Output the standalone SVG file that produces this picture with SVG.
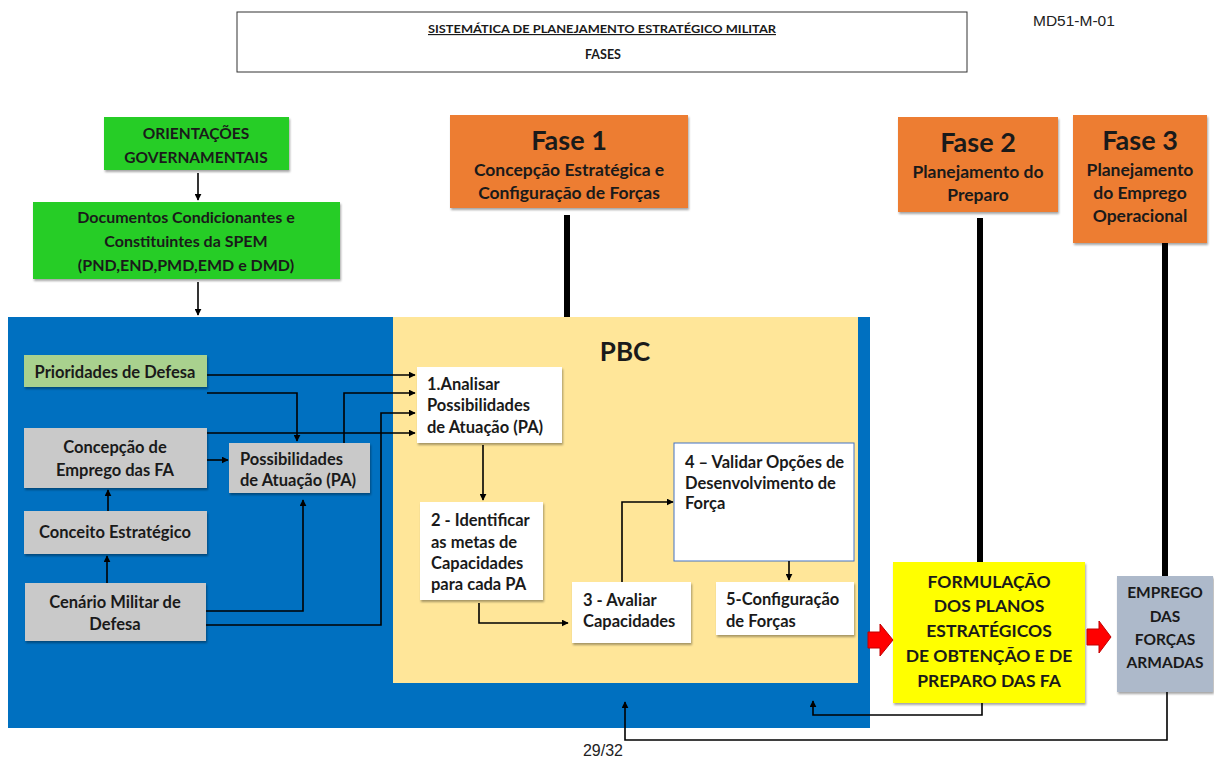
<svg xmlns="http://www.w3.org/2000/svg" width="1214" height="758" viewBox="0 0 1214 758">
<style>
.t{font-family:Lato,"Open Sans","Liberation Sans",sans-serif;font-weight:bold;fill:#1a1a1a}
.c{text-anchor:middle}
.b{font-size:16.5px}
.ln{fill:none;stroke:#000;stroke-width:1.6}
.thick{stroke:#000;stroke-width:6}
.white{fill:#fff}
.gray{fill:#c9c9c9}
.orange{fill:#ED7D31}
</style>
<defs>
<marker id="ah" viewBox="0 0 10 10" refX="9" refY="5" markerWidth="7" markerHeight="7" orient="auto" markerUnits="userSpaceOnUse">
<path d="M0,0 L10,5 L0,10 z" fill="#000"/>
</marker>
<filter id="sh" x="-5%" y="-5%" width="115%" height="125%">
<feDropShadow dx="1" dy="2" stdDeviation="1" flood-color="#000" flood-opacity="0.35"/>
</filter>
</defs>
<rect width="1214" height="758" fill="#fff"/>

<g id="title">
<rect x="237" y="12" width="730" height="60" fill="#fff" stroke="#333" stroke-width="1"/>
<text class="t c" x="602" y="33" font-size="11.5" textLength="348" lengthAdjust="spacingAndGlyphs" text-decoration="underline">SISTEMÁTICA DE PLANEJAMENTO ESTRATÉGICO MILITAR</text>
<text class="t c" x="603" y="59" font-size="12.5">FASES</text>
</g>
<text x="1033" y="26" font-family="Liberation Sans,Arial,sans-serif" font-size="15.5" fill="#222">MD51-M-01</text>

<g id="orientacoes">
<rect x="104" y="117" width="185" height="53" fill="#27CD27" filter="url(#sh)"/>
<text class="t c" x="196" y="139" font-size="15.5">ORIENTAÇÕES</text>
<text class="t c" x="196" y="163" font-size="15.5">GOVERNAMENTAIS</text>
</g>
<g id="documentos">
<rect x="33" y="202" width="307" height="77" fill="#27CD27" filter="url(#sh)"/>
<text class="t c" x="186" y="223" font-size="16">Documentos Condicionantes e</text>
<text class="t c" x="186" y="247" font-size="16">Constituintes da SPEM</text>
<text class="t c" x="186" y="271" font-size="16">(PND,END,PMD,EMD e DMD)</text>
</g>

<g id="blue-area">
<rect x="8" y="317" width="862" height="411" fill="#0070C0"/>
</g>
<g id="pbc">
<rect x="393" y="317" width="465" height="366" fill="#FFE699"/>
<text class="t c" x="625" y="361" font-size="26">PBC</text>
</g>

<g id="fase1">
<rect x="450" y="115" width="238" height="93" class="orange" filter="url(#sh)"/>
<text class="t c" x="569" y="150" font-size="27">Fase 1</text>
<text class="t c" x="569" y="176" font-size="17.5">Concepção Estratégica e</text>
<text class="t c" x="569" y="199" font-size="17.5">Configuração de Forças</text>
</g>
<g id="fase2">
<rect x="898" y="117" width="160" height="95" class="orange" filter="url(#sh)"/>
<text class="t c" x="978" y="152" font-size="27">Fase 2</text>
<text class="t c" x="978" y="178" font-size="17.5">Planejamento do</text>
<text class="t c" x="978" y="201" font-size="17.5">Preparo</text>
</g>
<g id="fase3">
<rect x="1073" y="115" width="134" height="128" class="orange" filter="url(#sh)"/>
<text class="t c" x="1140" y="150" font-size="27">Fase 3</text>
<text class="t c" x="1140" y="176" font-size="17.5">Planejamento</text>
<text class="t c" x="1140" y="199" font-size="17.5">do Emprego</text>
<text class="t c" x="1140" y="222" font-size="17.5">Operacional</text>
</g>

<g id="prioridades">
<rect x="24" y="355" width="183" height="32" fill="#A9D18E" filter="url(#sh)"/>
<text class="t c b" x="115" y="378">Prioridades de Defesa</text>
</g>
<g id="concepcao">
<rect x="24" y="428" width="183" height="60" class="gray" filter="url(#sh)"/>
<text class="t c b" x="115" y="453">Concepção de</text>
<text class="t c b" x="115" y="476">Emprego das FA</text>
</g>
<g id="possibilidades">
<rect x="229" y="443" width="141" height="50" class="gray" filter="url(#sh)"/>
<text class="t b" x="240" y="465">Possibilidades</text>
<text class="t b" x="240" y="486">de Atuação (PA)</text>
</g>
<g id="conceito">
<rect x="24" y="511" width="183" height="43" class="gray" filter="url(#sh)"/>
<text class="t c b" x="115" y="538">Conceito Estratégico</text>
</g>
<g id="cenario">
<rect x="25" y="583" width="181" height="58" class="gray" filter="url(#sh)"/>
<text class="t c b" x="115" y="608">Cenário Militar de</text>
<text class="t c b" x="115" y="630">Defesa</text>
</g>

<g id="analisar">
<rect x="417" y="367" width="145" height="76" class="white" filter="url(#sh)"/>
<text class="t b" x="427" y="390">1.Analisar</text>
<text class="t b" x="427" y="411">Possibilidades</text>
<text class="t b" x="427" y="433">de Atuação (PA)</text>
</g>
<g id="identificar">
<rect x="420" y="502" width="123" height="98" class="white" filter="url(#sh)"/>
<text class="t b" x="431" y="526">2 - Identificar</text>
<text class="t b" x="431" y="548">as metas de</text>
<text class="t b" x="431" y="569">Capacidades</text>
<text class="t b" x="431" y="590">para cada PA</text>
</g>
<g id="avaliar">
<rect x="572" y="582" width="119" height="61" class="white" filter="url(#sh)"/>
<text class="t b" x="583" y="606">3 - Avaliar</text>
<text class="t b" x="583" y="627">Capacidades</text>
</g>
<g id="validar">
<rect x="674" y="443" width="180" height="118" class="white" stroke="#4472C4" stroke-width="1"/>
<text class="t b" x="685" y="468">4 – Validar Opções de</text>
<text class="t b" x="685" y="489">Desenvolvimento de</text>
<text class="t b" x="685" y="509">Força</text>
</g>
<g id="configuracao">
<rect x="716" y="582" width="138" height="53" class="white" filter="url(#sh)"/>
<text class="t b" x="726" y="605">5-Configuração</text>
<text class="t b" x="726" y="627">de Forças</text>
</g>

<g id="formulacao">
<rect x="893" y="562" width="192" height="141" fill="#FFFF00" filter="url(#sh)"/>
<text class="t c" x="989" y="588" font-size="17.5">FORMULAÇÃO</text>
<text class="t c" x="989" y="612" font-size="17.5">DOS PLANOS</text>
<text class="t c" x="989" y="637" font-size="17.5">ESTRATÉGICOS</text>
<text class="t c" x="989" y="662" font-size="17.5">DE OBTENÇÃO E DE</text>
<text class="t c" x="989" y="687" font-size="17.5">PREPARO DAS FA</text>
</g>
<g id="emprego">
<rect x="1117" y="576" width="96" height="116" fill="#ADB9CA" filter="url(#sh)"/>
<text class="t c" x="1165" y="598" font-size="15.5">EMPREGO</text>
<text class="t c" x="1165" y="622" font-size="15.5">DAS</text>
<text class="t c" x="1165" y="645" font-size="15.5">FORÇAS</text>
<text class="t c" x="1165" y="668" font-size="15.5">ARMADAS</text>
</g>

<g id="connectors">
<line class="ln" x1="198" y1="173" x2="198" y2="200" marker-end="url(#ah)"/>
<line class="ln" x1="198" y1="282" x2="198" y2="315" marker-end="url(#ah)"/>
<line class="thick" x1="567" y1="215" x2="567" y2="317"/>
<line class="thick" x1="980" y1="218" x2="980" y2="562"/>
<line class="thick" x1="1165" y1="243" x2="1165" y2="576"/>
<line class="ln" x1="108" y1="511" x2="108" y2="490" marker-end="url(#ah)"/>
<line class="ln" x1="107" y1="583" x2="107" y2="556" marker-end="url(#ah)"/>
<line class="ln" x1="207" y1="460" x2="228" y2="460" marker-end="url(#ah)"/>
<line class="ln" x1="207" y1="375" x2="415" y2="375" marker-end="url(#ah)"/>
<polyline class="ln" points="207,393 297,393 297,441" marker-end="url(#ah)"/>
<polyline class="ln" points="207,433 415,433" marker-end="url(#ah)"/>
<polyline class="ln" points="344,443 344,393 415,393" marker-end="url(#ah)"/>
<polyline class="ln" points="206,611 303,611 303,500" marker-end="url(#ah)"/>
<polyline class="ln" points="206,625 381,625 381,413 415,413" marker-end="url(#ah)"/>
<line class="ln" x1="483" y1="445" x2="483" y2="500" marker-end="url(#ah)"/>
<polyline class="ln" points="479,603 479,623 568,623" marker-end="url(#ah)"/>
<polyline class="ln" points="622,582 622,502 673,502" marker-end="url(#ah)"/>
<line class="ln" x1="789" y1="561" x2="789" y2="580" marker-end="url(#ah)"/>
<polyline class="ln" points="982,703 982,715 813,715 813,701" marker-end="url(#ah)"/>
<polyline class="ln" points="1167,692 1167,740 625,740 625,702" marker-end="url(#ah)"/>
<path d="M868,632 L880,632 L880,624 L893,640 L880,656 L880,648 L868,648 z" fill="#FF0000" stroke="#C00000" stroke-width="1"/>
<path d="M1087,629 L1099,629 L1099,621 L1111,637 L1099,653 L1099,645 L1087,645 z" fill="#FF0000" stroke="#C00000" stroke-width="1"/>
</g>

<text x="603" y="756" text-anchor="middle" font-family="Liberation Sans,Arial,sans-serif" font-size="16" fill="#222">29/32</text>
</svg>
